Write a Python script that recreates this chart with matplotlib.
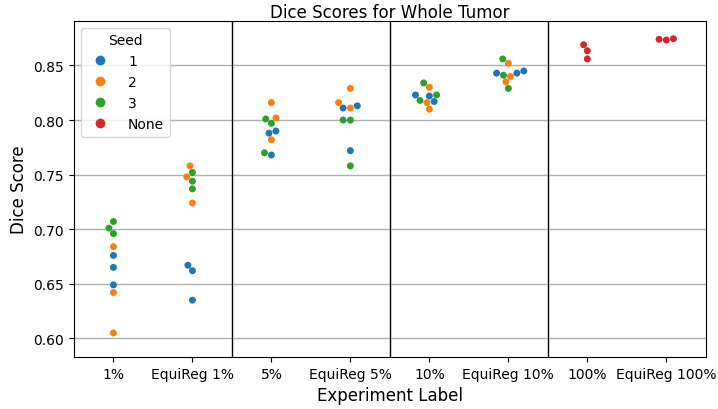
import numpy as np
import pandas as pd
import matplotlib
matplotlib.use("Agg")
import matplotlib.pyplot as plt
import seaborn as sns

labels = ["1%", "EquiReg 1%", "5%", "EquiReg 5%", "10%", "EquiReg 10%", "100%", "EquiReg 100%"]
seeds = ["1", "2", "3", "None"]

# dice scores per experiment, per seed
seed1 = {
    "1%": [0.676, 0.665, 0.649],
    "EquiReg 1%": [0.667, 0.662, 0.635],
    "5%": [0.790, 0.788, 0.768],
    "EquiReg 5%": [0.811, 0.813, 0.772],
    "10%": [0.822, 0.823, 0.817],
    "EquiReg 10%": [0.843, 0.843, 0.845],
}
seed2 = {
    "1%": [0.684, 0.642, 0.605],
    "EquiReg 1%": [0.758, 0.748, 0.724],
    "5%": [0.816, 0.802, 0.782],
    "EquiReg 5%": [0.829, 0.816, 0.811],
    "10%": [0.830, 0.816, 0.810],
    "EquiReg 10%": [0.852, 0.840, 0.835],
}
seed3 = {
    "1%": [0.707, 0.701, 0.696],
    "EquiReg 1%": [0.752, 0.744, 0.737],
    "5%": [0.801, 0.797, 0.770],
    "EquiReg 5%": [0.800, 0.800, 0.758],
    "10%": [0.834, 0.823, 0.818],
    "EquiReg 10%": [0.856, 0.841, 0.829],
}
seed_none = {
    "100%": [0.869, 0.8635, 0.856],
    "EquiReg 100%": [0.874, 0.8733, 0.8745],
}

rows = []
for seed, d in zip(seeds, [seed1, seed2, seed3, seed_none]):
    for lab, vals in d.items():
        for v in vals:
            rows.append({"Experiment Label": lab, "Seed": seed, "Dice Score": v})
df = pd.DataFrame(rows)

fig = plt.figure(figsize=(7.18, 4.10), dpi=100)
ax = fig.add_axes([0.103, 0.127, 0.880, 0.820])
ax.grid(axis="y", color="#b0b0b0", linewidth=1, zorder=0)
ax.set_axisbelow(True)
sns.swarmplot(data=df, x="Experiment Label", y="Dice Score", hue="Seed",
              order=labels, hue_order=seeds, palette="tab10", size=5, ax=ax)
for xv in [1.5, 3.5, 5.5]:
    ax.axvline(xv, color="black", linewidth=1)
ax.set_ylim(0.583, 0.891)
ax.set_xlim(-0.5, 7.5)
ax.set_title("Dice Scores for Whole Tumor", fontsize=12, pad=3)
ax.set_xlabel("Experiment Label", fontsize=12)
ax.set_ylabel("Dice Score", fontsize=12)
ax.tick_params(labelsize=10)
leg = ax.legend(title="Seed", loc="upper left", fontsize=10, title_fontsize=10,
                markerscale=1.4, handletextpad=1.0)
fig.savefig("out.png", dpi=100)
